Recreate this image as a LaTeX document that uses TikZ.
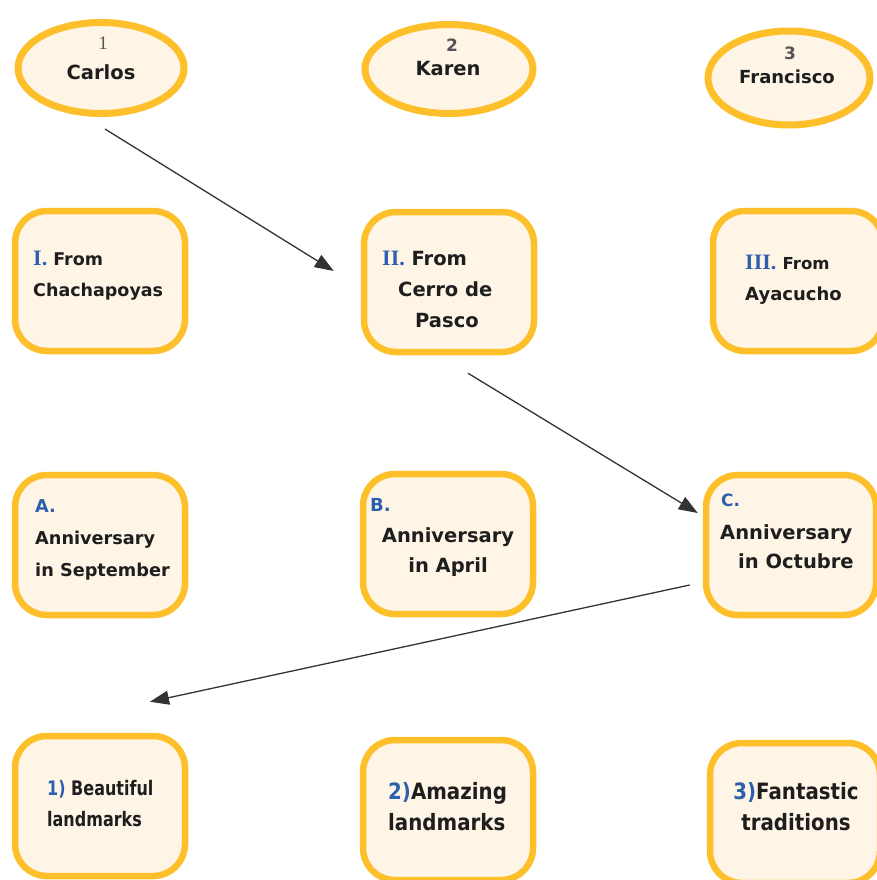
\documentclass[tikz,border=0pt]{standalone}
\usepackage{fontspec}
\setmainfont{DejaVu Sans}
\newfontfamily\serifnum{Liberation Serif}
\newfontfamily\narrowA[FakeStretch=0.8]{DejaVu Sans}
\newfontfamily\narrowB[FakeStretch=0.88]{DejaVu Sans}
\usetikzlibrary{arrows.meta,shapes.geometric,calc}
\definecolor{ybord}{HTML}{FDBF2A}
\definecolor{yfill}{HTML}{FFF5E6}
\definecolor{nblue}{HTML}{2E5FAE}
\definecolor{tdark}{HTML}{1E1E1E}
\definecolor{lcol}{HTML}{333333}
\definecolor{ngray}{HTML}{555555}
\newcommand\setfs[2]{\fontsize{#1}{#2}\selectfont}
\newcommand\romnum[1]{\textcolor{nblue}{\serifnum\bfseries\setfs{22}{31}#1}}
\begin{document}
\begin{tikzpicture}[x=1pt,y=-1pt,
  box/.style={draw=ybord, fill=yfill, line width=6.5pt, rounded corners=32pt,
    minimum width=170pt, minimum height=140pt, inner sep=0pt},
  oval/.style={ellipse, draw=ybord, fill=yfill, line width=7pt, inner sep=0pt},
  txt/.style={inner sep=0pt, text=tdark},
  conn/.style={draw=lcol, line width=1.3pt, -{Triangle[length=19pt,width=14pt]}}]
\useasboundingbox (0,0) rectangle (877,880);
\clip (0,0) rectangle (877,880);

% top ellipses
\node[oval, minimum width=166pt, minimum height=91pt] (carlos) at (101,68) {};
\node[oval, minimum width=168pt, minimum height=89pt] (karen) at (449,69) {};
\node[oval, minimum width=162pt, minimum height=94pt] (francisco) at (789,78) {};
\node[txt, text=ngray, font=\serifnum\setfs{19}{20}] (n1) at (103,43) {1};
\node[txt, font=\bfseries\setfs{19.5}{22}] (l1) at (101,72) {Carlos};
\node[txt, text=ngray, font=\bfseries\setfs{17}{20}] (n2) at (452,45) {2};
\node[txt, font=\bfseries\setfs{19.5}{22}] (l2) at (448,69) {Karen};
\node[txt, text=ngray, font=\bfseries\setfs{17}{20}] (n3) at (790,53) {3};
\node[txt, font=\bfseries\setfs{18}{22}] (l3) at (787,77) {Francisco};

% row 1
\node[box] (b1) at (100,281) {};
\node[box] (b2) at (449,282) {};
\node[box] (b3) at (798,281) {};
\node[txt, align=left, anchor=west, font=\bfseries\setfs{17.5}{31}] (t1) at (33,276)
  {\romnum{I.} From\\Chachapoyas};
\node[txt, align=left, anchor=west, font=\bfseries\setfs{19.5}{31}] (t2) at (382,289)
  {\romnum{II.} From\\\hspace*{16pt}Cerro de\\\hspace*{33pt}Pasco};
\node[txt, align=left, anchor=west, font=\bfseries\setfs{18}{31}] (t3) at (745,280)
  {\romnum{III.} {\setfs{16.5}{31}From}\\Ayacucho};

% row 2
\node[box] (bA) at (100,545) {};
\node[box] (bB) at (448,544) {};
\node[box] (bC) at (791,545) {};
\node[txt, align=left, anchor=west, font=\bfseries\setfs{17.7}{32}] (tA) at (35,540)
  {\textcolor{nblue}{A.}\\Anniversary\\in September};
\node[txt, anchor=west, text=nblue, font=\bfseries\setfs{18}{22}] (tBl) at (370,505) {B.};
\node[txt, align=center, font=\bfseries\setfs{19.5}{30}] (tB) at (448,552)
  {Anniversary\\in April};
\node[txt, anchor=west, text=nblue, font=\bfseries\setfs{17}{22}] (tCl) at (721,500) {C.};
\node[txt, align=left, anchor=west, font=\bfseries\setfs{19.5}{29}] (tC) at (720,547)
  {Anniversary\\\hspace*{18pt}in Octubre};

% row 3
\node[box] (r1) at (100,806) {};
\node[box] (r2) at (448,810) {};
\node[box] (r3) at (795,813) {};
\node[txt, align=left, anchor=west, font=\bfseries\narrowA\setfs{20}{31}] (s1) at (47,804)
  {\textcolor{nblue}{1)} Beautiful\\landmarks};
\node[txt, align=left, anchor=west, font=\bfseries\narrowB\setfs{22.5}{31}] (s2) at (388,807)
  {\textcolor{nblue}{2)}Amazing\\landmarks};
\node[txt, align=center, font=\bfseries\narrowB\setfs{22.5}{31}] (s3) at (796,807)
  {\textcolor{nblue}{3)}Fantastic\\traditions};

% connectors
\draw[conn] ($(carlos.south)+(4,12)$) -- ($(b2.west)+(-27,-11)$);
\draw[conn] ($(b2.south)+(19,18)$) -- ($(bC.west)+(-5,-32)$);
\draw[conn] ($(bC.west)+(-13,40)$) -- ($(r1.north)+(50,-31)$);
\end{tikzpicture}
\end{document}
